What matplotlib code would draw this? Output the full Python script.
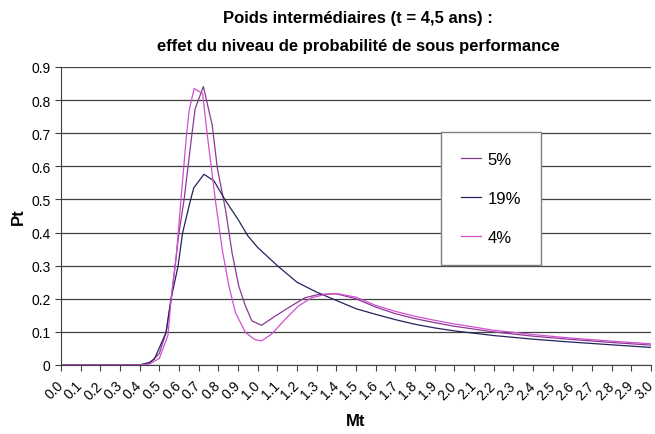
import matplotlib
matplotlib.use("Agg")
import matplotlib.pyplot as plt
import numpy as np

plt.rcParams['font.family'] = ['Liberation Sans', 'DejaVu Sans']

# series
x_5 = [0.0, 0.40, 0.45, 0.50, 0.535, 0.56, 0.60, 0.626, 0.665, 0.682, 0.724, 0.769, 0.795,
       0.837, 0.87, 0.904, 0.938, 0.971, 1.02, 1.09, 1.17, 1.24, 1.31, 1.4, 1.5, 1.6, 1.7,
       1.8, 1.9, 2.0, 2.2, 2.4, 2.6, 2.8, 3.0]
y_5 = [0.0, 0.0, 0.005, 0.035, 0.10, 0.20, 0.40, 0.50, 0.694, 0.774, 0.841, 0.724, 0.594,
       0.468, 0.338, 0.238, 0.178, 0.133, 0.12, 0.148, 0.178, 0.203, 0.213, 0.215, 0.20, 0.175, 0.155,
       0.14, 0.128, 0.117, 0.10, 0.087, 0.077, 0.068, 0.06]

x_19 = [0.0, 0.40, 0.45, 0.475, 0.534, 0.559, 0.595, 0.618, 0.655, 0.675, 0.727, 0.778, 0.835,
        0.9, 0.95, 1.0, 1.1, 1.2, 1.3, 1.4, 1.5, 1.6, 1.7, 1.8, 1.9, 2.0, 2.2, 2.4, 2.6, 2.8, 3.0]
y_19 = [0.0, 0.0, 0.008, 0.018, 0.098, 0.198, 0.298, 0.398, 0.49, 0.535, 0.576, 0.556, 0.498,
        0.44, 0.39, 0.355, 0.30, 0.25, 0.22, 0.195, 0.17, 0.153, 0.137, 0.123, 0.112, 0.103, 0.089,
        0.078, 0.069, 0.061, 0.053]

x_4 = [0.0, 0.40, 0.45, 0.50, 0.544, 0.56, 0.585, 0.61, 0.638, 0.652, 0.677, 0.72, 0.744,
       0.786, 0.82, 0.854, 0.887, 0.938, 0.988, 1.02, 1.07, 1.14, 1.207, 1.274, 1.35, 1.4, 1.5,
       1.6, 1.7, 1.8, 1.9, 2.0, 2.2, 2.4, 2.6, 2.8, 3.0]
y_4 = [0.0, 0.0, 0.003, 0.02, 0.09, 0.20, 0.32, 0.50, 0.694, 0.77, 0.835, 0.82, 0.694,
       0.493, 0.348, 0.238, 0.158, 0.098, 0.076, 0.073, 0.093, 0.138, 0.178, 0.203, 0.214, 0.216, 0.205,
       0.18, 0.162, 0.147, 0.135, 0.124, 0.105, 0.092, 0.081, 0.072, 0.064]

labels = ["5%", "19%", "4%"]
colors = ["#8a3a96", "#24245e", "#d050d0"]

xticks = np.round(np.arange(0, 3.01, 0.1), 1)
yticks = np.round(np.arange(0, 0.91, 0.1), 1)

fig = plt.figure(figsize=(6.55, 4.35), dpi=100)
ax = fig.add_axes([61 / 655, 1 - 366 / 435, 590 / 655, 298 / 435])

for xs, ys, lab, c in zip([x_5, x_19, x_4], [y_5, y_19, y_4], labels, colors):
    ax.plot(xs, ys, color=c, lw=0.9, label=lab)

ax.set_xlim(0, 3.0)
ax.set_ylim(0, 0.9)
ax.set_xticks(xticks)
ax.set_xticklabels([f"{v:.1f}" for v in xticks], rotation=45, ha="right", va="center",
                   rotation_mode="anchor", fontsize=10)
ax.set_yticks(yticks)
ax.set_yticklabels(["0"] + [f"{v:.1f}" for v in yticks[1:]], fontsize=10)
ax.tick_params(direction="out", length=4, width=0.8, color="#404040")
ax.tick_params(axis="x", pad=9)
ax.grid(axis="y", color="#404040", lw=0.9)
ax.set_axisbelow(True)
for s in ["top", "right"]:
    ax.spines[s].set_visible(False)
for s in ["left", "bottom"]:
    ax.spines[s].set_color("#404040")

ax.set_xlabel("Mt", fontsize=12, fontweight="bold", labelpad=8)
ax.set_ylabel("Pt", fontsize=12, fontweight="bold", labelpad=4)

fig.text(358 / 655, 1 - 18 / 435, "Poids intermédiaires (t = 4,5 ans) :",
         ha="center", va="center", fontsize=12, fontweight="bold")
fig.text(358 / 655, 1 - 46 / 435, "effet du niveau de probabilité de sous performance",
         ha="center", va="center", fontsize=12, fontweight="bold")

leg = ax.legend(loc="upper left", bbox_to_anchor=(0.644, 0.782), fontsize=12,
                frameon=True, fancybox=False, edgecolor="#808080", framealpha=1,
                borderpad=1.2, labelspacing=1.45, handlelength=1.2, handletextpad=0.4,
                borderaxespad=0)
leg.get_frame().set_linewidth(1.0)

fig.savefig("out.png", dpi=100)
